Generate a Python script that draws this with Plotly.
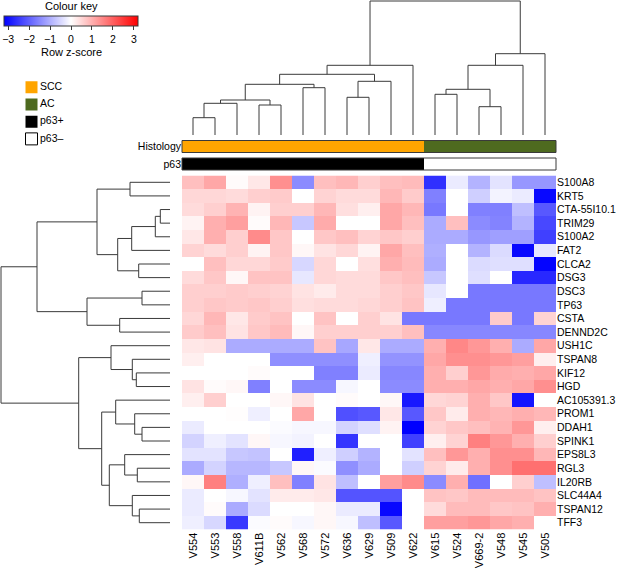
import plotly.graph_objects as go

W, H = 623, 569

# samples (columns) in dendrogram order
samples = ["V554", "V553", "V558", "V611B", "V562", "V568", "V572", "V636", "V629",
           "V509", "V622", "V615", "V524", "V669-2", "V548", "V545", "V505"]
histology = ["SCC"] * 11 + ["AC"] * 6
p63_status = ["p63+"] * 11 + ["p63-"] * 6

genes = ["S100A8", "KRT5", "CTA-55I10.1", "TRIM29", "S100A2", "FAT2", "CLCA2", "DSG3",
         "DSC3", "TP63", "CSTA", "DENND2C", "USH1C", "TSPAN8", "KIF12", "HGD",
         "AC105391.3", "PROM1", "DDAH1", "SPINK1", "EPS8L3", "RGL3", "IL20RB",
         "SLC44A4", "TSPAN12", "TFF3"]

# row z-scores, one list per gene (columns as in `samples`)
zscores = [
    [0.8, 1.1, 0.05, 0.3, 1.4, -1.45, 0.8, 0.9, 0.6, 0.8, 0.85, -2.6, -0.25, -0.95, -0.35, -1.3, -1.3],
    [0.5, 0.5, 0.45, 0.6, 0.65, 0.0, 0.55, 0.45, 0.45, 0.9, 0.65, -1.6, 0.0, -0.6, -0.15, -0.25, -3.1],
    [0.45, 0.6, 0.95, 0.15, 0.6, 0.6, 0.9, 0.4, 0.2, 1.1, 0.9, -1.7, 0.0, -1.6, -1.6, -0.8, -2.1],
    [0.15, 1.0, 1.2, 0.05, 0.9, -0.7, 1.05, 0.0, 0.0, 1.1, 0.8, -1.05, 0.8, -1.45, -1.55, -0.95, -2.3],
    [0.3, 1.0, 0.6, 1.45, 0.7, 0.0, 0.7, 0.8, 0.55, 0.7, 0.6, -1.05, -1.05, -1.3, -1.2, -1.2, -2.4],
    [0.55, 0.45, 0.6, 0.15, 0.7, 0.1, 0.35, 0.5, 0.15, 1.1, 0.8, -1.0, 0.0, -0.95, -0.45, -3.1, -0.3],
    [0.0, 0.8, 0.5, 0.5, 0.65, -0.5, 0.5, 0.0, 0.4, 1.0, 0.85, -1.05, 0.0, -0.45, -0.4, -0.4, -3.15],
    [0.45, 0.7, 0.1, 0.75, 0.75, -0.3, 0.5, 0.45, 0.45, 0.7, 0.8, -0.7, 0.0, -0.4, 0.0, -2.7, -2.7],
    [0.6, 0.6, 0.65, 0.6, 0.55, 0.35, 0.25, 0.45, 0.45, 0.6, 0.7, -0.3, 0.0, -1.7, -1.7, -1.7, -1.7],
    [0.6, 0.7, 0.65, 0.7, 0.6, 0.4, 0.45, 0.45, 0.5, 0.6, 0.75, -0.2, -1.7, -1.7, -1.7, -1.7, -1.7],
    [0.5, 0.9, 0.3, 0.65, 0.75, 0.0, 0.75, 0.0, 0.6, 0.35, -1.7, -1.7, -1.7, -1.7, 0.65, -1.7, 0.55],
    [0.65, 0.8, 0.35, 0.7, 0.85, 0.1, 0.6, 0.6, 0.6, 0.6, 0.8, -1.5, -1.5, -1.5, -1.5, -1.5, -1.5],
    [0.3, 0.35, -1.05, -1.05, -1.05, -1.05, 0.75, -1.1, 0.3, -1.05, -1.05, 1.0, 1.5, 1.3, 1.0, -1.05, 1.1],
    [0.2, 0.0, 0.0, 0.0, -1.4, -1.4, -1.4, -1.4, -0.2, -1.35, -1.35, 1.1, 1.4, 1.4, 1.3, 1.2, 0.2],
    [0.0, 0.0, 0.0, 0.05, 0.0, 0.0, -1.6, -1.6, -0.25, -1.5, -1.5, 1.0, 0.6, 1.3, 1.05, 1.0, 1.1],
    [0.35, 0.05, 0.1, -1.6, 0.0, -1.45, -1.45, -0.1, 0.0, -1.45, -1.45, 1.0, 1.0, 1.1, 1.0, 1.1, 1.4],
    [0.2, 0.6, 0.0, 0.0, 0.1, 0.35, 0.0, 0.05, 0.0, 0.1, -2.9, 0.5, 0.55, 1.0, 0.7, -2.95, 0.0],
    [0.0, 0.0, 0.02, -0.2, 0.0, 1.1, 0.0, -2.2, -2.1, 0.3, -2.1, 0.7, 0.25, 1.0, 0.9, 1.0, 0.9],
    [-0.25, 0.0, 0.0, 0.0, -0.05, -0.1, -0.1, -0.55, -0.4, 0.15, -3.2, 0.55, 0.7, 0.8, 0.95, 1.3, 0.2],
    [-0.55, -0.2, -0.35, 0.1, -0.1, -0.15, 0.0, -2.55, 0.0, 0.0, -2.4, 0.2, 0.55, 1.6, 1.3, 1.0, 0.6],
    [-0.35, -0.35, -0.7, -0.75, 0.0, -2.8, -0.2, -0.6, -0.95, 0.0, -0.35, 0.8, 1.3, 1.0, 1.4, 1.4, 0.9],
    [-1.05, -0.55, -0.9, -0.9, -0.7, 0.1, -0.05, -1.4, -1.05, 0.0, -0.6, 0.55, 0.25, 1.0, 1.4, 1.8, 1.8],
    [0.1, 1.6, -1.0, -0.2, 0.8, -1.6, 0.35, -0.8, 0.0, 1.2, 1.45, -1.45, 1.0, -1.8, 0.0, 0.6, -0.8],
    [-0.25, 0.0, -0.1, -0.35, 0.25, 0.25, 0.3, -2.15, -2.15, -2.15, 0.0, 0.75, 0.7, 0.85, 0.85, 0.85, 0.75],
    [-0.25, 0.05, -1.05, -0.45, 0.0, 0.0, 0.1, -0.25, -0.25, -3.1, 0.0, 0.45, 0.85, 0.85, 0.7, 0.75, 1.0],
    [-0.2, -0.5, -2.5, -0.05, 0.05, -0.1, 0.1, -0.1, -0.8, -2.1, 0.0, 1.2, 1.2, 1.3, 1.1, 1.0, 0.0],
]

# linkage style merges: (child a, child b, height); ids >= n refer to earlier merges
col_merges = [
    (0, 1, 17.3), (17, 2, 31.7), (3, 4, 30.0), (18, 19, 35.0), (5, 6, 47.3),
    (20, 21, 50.7), (7, 8, 37.7), (23, 9, 53.7), (22, 24, 60.7), (25, 10, 69.7),
    (11, 12, 40.7), (13, 14, 28.3), (27, 28, 45.7), (29, 15, 69.7), (30, 16, 81.3),
    (26, 31, 134.0),
]
row_merges = [
    (0, 1, 40.0), (2, 3, 9.7), (27, 4, 14.7), (28, 5, 38.3), (6, 7, 31.3),
    (29, 30, 52.3), (26, 31, 73.0), (8, 9, 28.0), (10, 11, 50.3), (33, 34, 83.0),
    (32, 35, 133.0), (14, 15, 33.7), (13, 37, 37.7), (12, 38, 59.0), (18, 19, 28.0),
    (17, 40, 35.3), (16, 41, 54.3), (21, 22, 32.7), (20, 43, 45.3), (24, 25, 30.7),
    (23, 45, 37.7), (44, 46, 60.7), (42, 47, 68.3), (39, 48, 91.3), (36, 49, 169.0),
]

legend_labels = ["SCC", "AC", "p63+", "p63–"]
SCC_COL, AC_COL = "#FFA500", "#4E6A1F"
legend_colors = [SCC_COL, AC_COL, "#000000", "#FFFFFF"]

FONT = "Liberation Sans, Arial, sans-serif"
LINE = "#3a3a3a"


def dendro(merges, n):
    pos = [float(i) for i in range(n)]
    hgt = [0.0] * n
    p, h = [], []
    for a, b, ht in merges:
        p += [pos[a], pos[a], pos[b], pos[b], None]
        h += [hgt[a], ht, ht, hgt[b], None]
        pos.append((pos[a] + pos[b]) / 2)
        hgt.append(ht)
    return p, h


def px_x(a, b):
    return [a / W, b / W]


def px_y(top, bottom):
    return [1 - bottom / H, 1 - top / H]


HM_X = px_x(182, 556)
HM_Y = px_y(175.5, 529.5)

fig = go.Figure()

# main heatmap
fig.add_trace(go.Heatmap(
    z=zscores, x=samples, y=genes, zmin=-3.2, zmax=3.2,
    colorscale=[[0, "rgb(0,0,255)"], [0.5, "rgb(255,255,255)"], [1, "rgb(255,0,0)"]],
    hoverinfo="skip",
    colorbar=dict(orientation="h", x=71 / W, xanchor="center", y=1 - 16 / H, yanchor="top",
                  xpad=0, ypad=0, len=134, lenmode="pixels", thickness=10,
                  outlinewidth=1, outlinecolor=LINE,
                  tickvals=[-3, -2, -1, 0, 1, 2, 3],
                  ticktext=["−3", "−2", "−1", "0", "1", "2", "3"],
                  ticks="outside", ticklen=4, tickcolor=LINE,
                  tickfont=dict(size=10.5, family=FONT, color="black")),
))

# column dendrogram
cx, cy = dendro(col_merges, len(samples))
fig.add_trace(go.Scatter(x=cx, y=cy, mode="lines", line=dict(color=LINE, width=1),
                         xaxis="x2", yaxis="y2", hoverinfo="skip"))

# row dendrogram
ry, rx = dendro(row_merges, len(genes))
fig.add_trace(go.Scatter(x=rx, y=ry, mode="lines", line=dict(color=LINE, width=1),
                         xaxis="x3", yaxis="y3", hoverinfo="skip"))

# annotation bars
fig.add_trace(go.Heatmap(
    z=[[0 if h == "SCC" else 1 for h in histology]], x=samples, y=["Histology"],
    zmin=0, zmax=1, showscale=False, hoverinfo="skip",
    colorscale=[[0, SCC_COL], [0.5, SCC_COL], [0.5, AC_COL], [1, AC_COL]],
    xaxis="x4", yaxis="y4"))
fig.add_trace(go.Heatmap(
    z=[[0 if s == "p63+" else 1 for s in p63_status]], x=samples, y=["p63"],
    zmin=0, zmax=1, showscale=False, hoverinfo="skip",
    colorscale=[[0, "#000000"], [0.5, "#000000"], [0.5, "#FFFFFF"], [1, "#FFFFFF"]],
    xaxis="x5", yaxis="y5"))

# legend
fig.add_trace(go.Scatter(
    x=[0] * len(legend_labels), y=list(range(len(legend_labels))),
    mode="markers+text", text=legend_labels, textposition="middle right",
    textfont=dict(size=10.5, family=FONT, color="black"),
    marker=dict(symbol="square", size=12, color=legend_colors, line=dict(color="black", width=[0, 0, 0, 1])),
    xaxis="x6", yaxis="y6", hoverinfo="skip"))

hidden = dict(visible=False, showgrid=False, zeroline=False, fixedrange=True)
tickfont = dict(size=10.5, family=FONT, color="black")

fig.update_layout(
    width=W, height=H, margin=dict(l=0, r=0, t=0, b=0),
    paper_bgcolor="white", plot_bgcolor="white", showlegend=False,
    font=dict(family=FONT, size=10.5, color="black"),
    xaxis=dict(domain=HM_X, tickangle=-90, ticks="", showgrid=False, zeroline=False,
               tickfont=dict(size=11, family=FONT, color="black"), fixedrange=True),
    yaxis=dict(domain=HM_Y, autorange="reversed", side="right", ticks="", showgrid=False,
               zeroline=False, tickfont=tickfont, fixedrange=True),
    xaxis2=dict(domain=HM_X, range=[-0.5, 16.5], anchor="y2", **hidden),
    yaxis2=dict(domain=px_y(0, 135), range=[0, 135], anchor="x2", **hidden),
    xaxis3=dict(domain=px_x(0, 170), range=[170, 0], anchor="y3", **hidden),
    yaxis3=dict(domain=HM_Y, range=[25.5, -0.5], anchor="x3", **hidden),
    xaxis4=dict(domain=HM_X, anchor="y4", **hidden),
    yaxis4=dict(domain=px_y(140.5, 152.5), anchor="x4", ticks="", showgrid=False, zeroline=False,
                tickfont=tickfont, fixedrange=True),
    xaxis5=dict(domain=HM_X, anchor="y5", **hidden),
    yaxis5=dict(domain=px_y(158, 170), anchor="x5", ticks="", showgrid=False, zeroline=False,
                tickfont=tickfont, fixedrange=True),
    xaxis6=dict(domain=px_x(0, 140), range=[-31.5, 108.5], anchor="y6", **hidden),
    yaxis6=dict(domain=px_y(78.5, 147.5), range=[3.5, -0.5], anchor="x6", **hidden),
    shapes=[
        dict(type="rect", xref="x4 domain", yref="y4 domain", x0=0, x1=1, y0=0, y1=1,
             line=dict(color=LINE, width=1)),
        dict(type="rect", xref="x5 domain", yref="y5 domain", x0=0, x1=1, y0=0, y1=1,
             line=dict(color=LINE, width=1)),
    ],
    annotations=[
        dict(text="Colour key", x=71 / W, y=1 - 6 / H, xref="paper", yref="paper",
             xanchor="center", yanchor="middle", showarrow=False,
             font=dict(size=11, family=FONT, color="black")),
        dict(text="Row z-score", x=71 / W, y=1 - 52 / H, xref="paper", yref="paper",
             xanchor="center", yanchor="middle", showarrow=False,
             font=dict(size=11, family=FONT, color="black")),
    ],
)

# the page body has a default 8px margin; drop it so the figure sits at the corner
fig.write_html("out.html", config={"displayModeBar": False},
               post_script="document.body.style.margin='0';")
